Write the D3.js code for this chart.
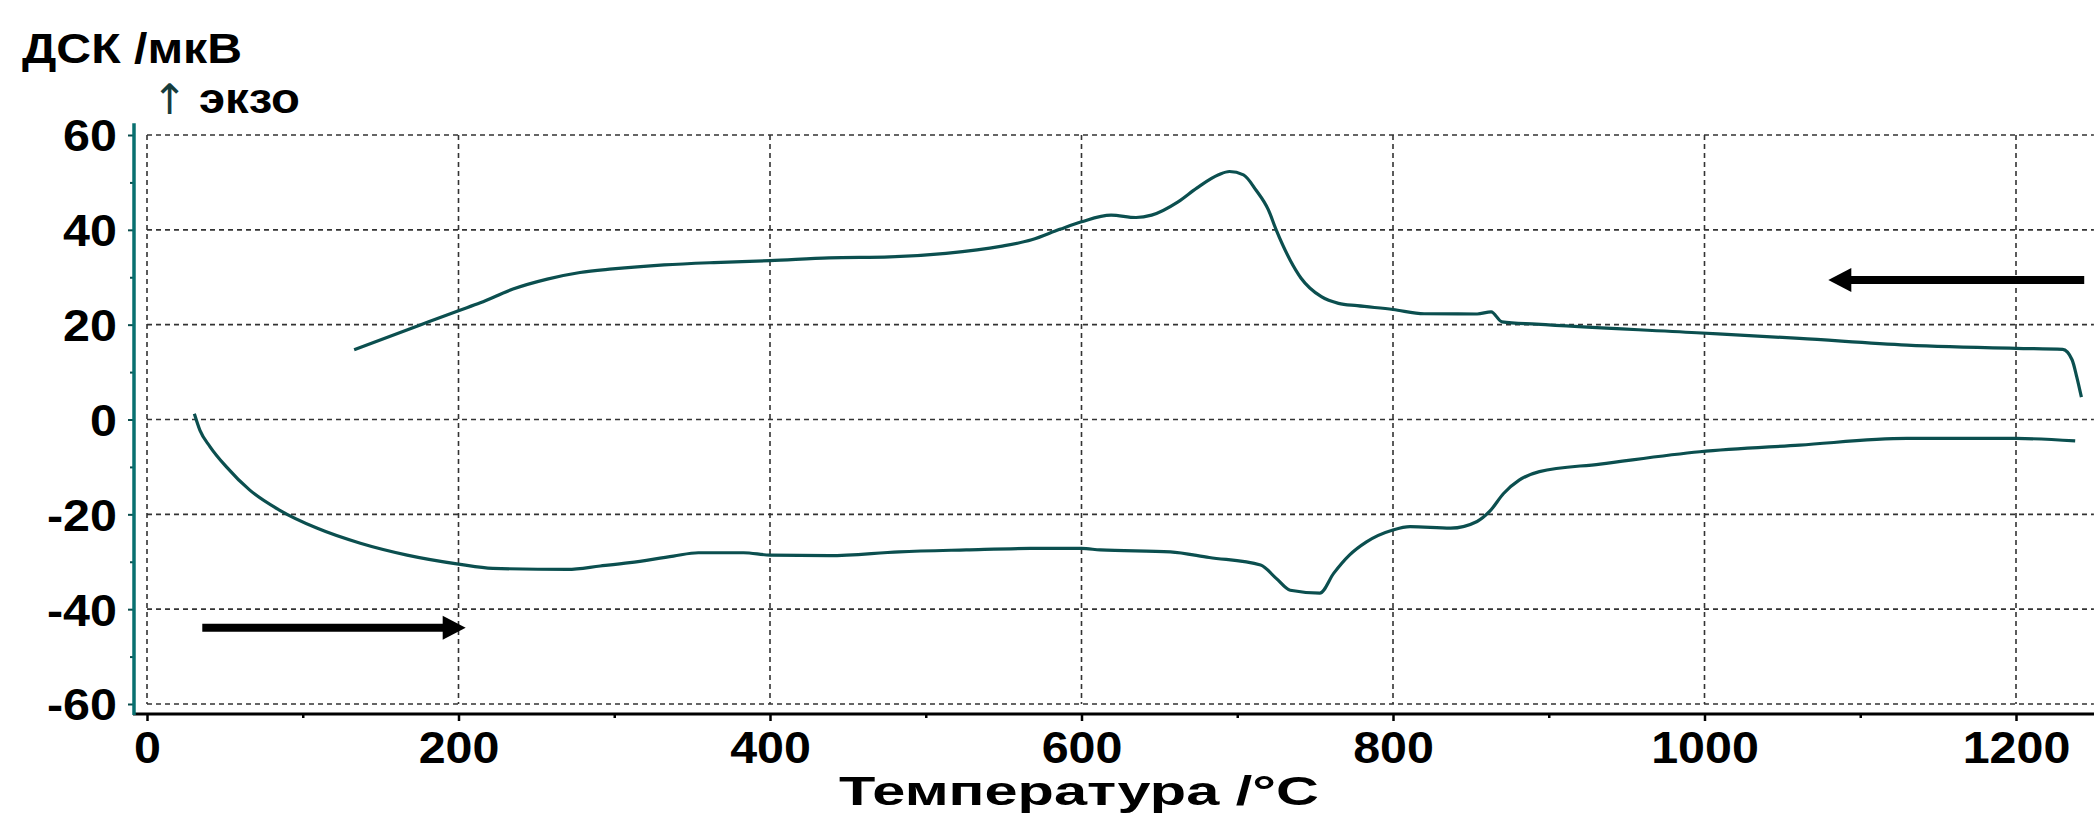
<!DOCTYPE html>
<html>
<head>
<meta charset="utf-8">
<script src="https://cdn.jsdelivr.net/npm/d3@7"></script>
<style>
body{margin:0;background:#fff;}
text{font-family:"Liberation Sans",Arial,sans-serif;font-weight:bold;fill:#000;}
</style>
</head>
<body>
<svg id="chart" width="2094" height="815"></svg>
<script>
// heating run (lower curve), T in °C, DSC in mkV
var heatT = [30.4,34,40.4,51,66,85,109,137,167,200,222,270,291,310,338,354,383,400,438,483,526,567,600,612,657,682,715,725,734,753,762,772,783,800,811,837,854,862,871,881,894,933,997,1061,1130,1200,1238];
var heatV = [1.2,-2.3,-5.7,-10,-14.9,-19.1,-22.9,-26.1,-28.6,-30.5,-31.4,-31.6,-30.9,-30.2,-28.8,-28.1,-28.1,-28.6,-28.7,-27.9,-27.5,-27.2,-27.2,-27.5,-27.9,-29.1,-30.7,-33.5,-36,-36.6,-32.4,-28.6,-25.8,-23.3,-22.6,-22.9,-21.5,-19.4,-15.6,-12.8,-11.0,-9.4,-6.8,-5.4,-4.0,-4.0,-4.5];
// cooling run (upper curve)
var coolT = [133,175,200,214,235,257,278,299,332,364,400,438,477,513,548,568,586,600,619,635,645,662,674,688,695,704,712,720,725,734,741,754,765,777,800,820,854,863,870,892,995,1061,1130,1200,1230,1236,1239,1242];
var coolV = [14.7,19.9,22.95,24.6,27.5,29.6,31.0,31.75,32.6,33.1,33.5,34.1,34.3,35.05,36.5,37.9,40.1,41.7,43.1,42.6,43.1,45.9,48.8,51.6,52.3,51.6,48.4,44.2,40,33.6,29.8,25.9,24.5,24,23.2,22.3,22.25,22.7,20.6,20.1,18.3,17.1,15.7,15.0,14.8,12.6,9.0,4.7];

var xTicks = [0,200,400,600,800,1000,1200];
var xMinor = [100,300,500,700,900,1100];
var yTicks = [-60,-40,-20,0,20,40,60];
var yMinor = [-50,-30,-10,10,30,50];
// direction arrows: [T from, T to, DSC level]
var heatArrow = [35.5,204.6,-43.9];
var coolArrow = [1243.8,1079.5,29.4];

var svg = d3.select("#chart");
var x = d3.scaleLinear().domain([0,1200]).range([147,2016]);
var y = d3.scaleLinear().domain([-60,60]).range([704,135]);
var xMax = 1250;
var axisY = 714, axisX = 134;
var col = "#0b4f4f";
var plain = function(d){ return String(d); };   // keep hyphen minus like the original

// grid
var grid = svg.append("g").attr("class","grid")
    .attr("stroke","#333").attr("stroke-width",1.6).attr("stroke-dasharray","5,4");
grid.selectAll(".gx").data(xTicks).enter().append("line")
    .attr("x1",function(d){return x(d);}).attr("x2",function(d){return x(d);})
    .attr("y1",y(60)).attr("y2",y(-60));
grid.selectAll(".gy").data(yTicks).enter().append("line")
    .attr("x1",x(0)).attr("x2",x(xMax))
    .attr("y1",function(d){return y(d);}).attr("y2",function(d){return y(d);});

// x axis
var gx = svg.append("g").attr("transform","translate(0,"+axisY+")")
    .call(d3.axisBottom(x).tickValues(xTicks).tickSize(7).tickSizeOuter(0).tickFormat(plain));
gx.select(".domain").remove();
gx.selectAll(".tick line").attr("stroke","#000").attr("stroke-width",2.5);
gx.selectAll(".tick text").attr("y",49).attr("dy",0)
    .attr("font-size","44px").attr("transform","scale(1.1,1)")
    .attr("font-family",null);
var gxm = svg.append("g").attr("transform","translate(0,"+axisY+")")
    .call(d3.axisBottom(x).tickValues(xMinor).tickSize(4).tickFormat(""));
gxm.select(".domain").remove();
gxm.selectAll(".tick line").attr("stroke","#000").attr("stroke-width",2.5);
svg.append("line").attr("x1",axisX-1).attr("x2",2094).attr("y1",axisY).attr("y2",axisY)
    .attr("stroke","#000").attr("stroke-width",3);

// y axis
var gy = svg.append("g").attr("transform","translate("+axisX+",0)")
    .call(d3.axisLeft(y).tickValues(yTicks).tickSize(6).tickSizeOuter(0).tickFormat(plain));
gy.select(".domain").remove();
gy.selectAll(".tick line").attr("stroke",col).attr("stroke-width",2);
gy.selectAll(".tick text").attr("x",-15.5).attr("dy","0.36em")
    .attr("font-size","44px").attr("transform","scale(1.1,1)")
    .attr("font-family",null);
var gym = svg.append("g").attr("transform","translate("+axisX+",0)")
    .call(d3.axisLeft(y).tickValues(yMinor).tickSize(4).tickFormat(""));
gym.select(".domain").remove();
gym.selectAll(".tick line").attr("stroke",col).attr("stroke-width",2);
svg.append("line").attr("x1",axisX).attr("x2",axisX).attr("y1",y(62.5)).attr("y2",axisY+1)
    .attr("stroke","#087070").attr("stroke-width",3.5);

// curves
var line = d3.line()
    .x(function(d){return x(d[0]);})
    .y(function(d){return y(d[1]);})
    .curve(d3.curveMonotoneX);
function pairs(a,b){
    var out=[];
    for(var i=0;i<a.length;i++){ out[i]=[a[i],b[i]]; }
    return out;
}
svg.append("path").attr("d",line(pairs(heatT,heatV)))
    .attr("fill","none").attr("stroke",col).attr("stroke-width",3.2);
svg.append("path").attr("d",line(pairs(coolT,coolV)))
    .attr("fill","none").attr("stroke",col).attr("stroke-width",3.2);

// arrows
function drawArrow(a){
    var x0=x(a[0]), x1=x(a[1]), yy=y(a[2]);
    var dir = x1>x0 ? 1 : -1;
    var head = 23;
    svg.append("line").attr("x1",x0).attr("x2",x1-dir*head+dir*2).attr("y1",yy).attr("y2",yy)
        .attr("stroke","#000").attr("stroke-width",8);
    svg.append("path")
        .attr("d","M"+x1+","+yy+"L"+(x1-dir*head)+","+(yy-12)+"L"+(x1-dir*head)+","+(yy+12)+"Z")
        .attr("fill","#000");
}
drawArrow(heatArrow);
drawArrow(coolArrow);

// labels
svg.append("text").attr("x",22).attr("y",63)
    .attr("font-size","42px").attr("textLength",220).attr("lengthAdjust","spacingAndGlyphs")
    .text("ДСК /мкВ");
svg.append("text").attr("x",152).attr("y",114).attr("font-size","42px")
    .style("font-weight","normal").style("fill","#163c3c").style("font-family","DejaVu Sans")
    .text("↑");
svg.append("text").attr("x",199).attr("y",113)
    .attr("font-size","42px").attr("textLength",101).attr("lengthAdjust","spacingAndGlyphs")
    .text("экзо");
svg.append("text").attr("x",839).attr("y",805)
    .attr("font-size","41px").attr("textLength",480).attr("lengthAdjust","spacingAndGlyphs")
    .text("Температура /°C");
</script>
</body>
</html>
